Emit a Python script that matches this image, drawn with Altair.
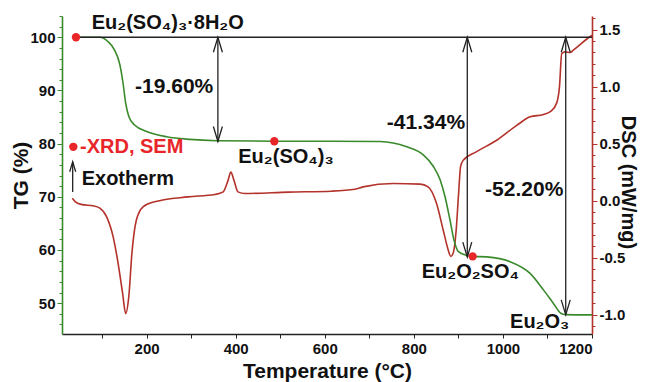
import altair as alt
import pandas as pd

# ---------------- data ----------------
tg_temp = [41, 95, 113, 128, 140, 147, 153, 160, 173, 200, 245, 297, 357, 486, 612, 724,
           784, 821, 844, 859, 870, 881, 890, 900, 919, 932, 964, 1016, 1061, 1091, 1113,
           1130, 1140, 1200]
tg_value = [100, 100, 99.2, 97.6, 94.8, 91.4, 87.6, 85.1, 83.5, 82.3, 81.3, 80.8, 80.55, 80.45,
            80.45, 80.4, 79.4, 77.9, 75.7, 73.2, 70.0, 65.7, 61.9, 59.7, 59.0, 58.8, 58.7,
            57.8, 55.6, 52.5, 50.0, 48.1, 47.85, 47.8]

dsc_temp = [33, 40, 55, 80, 95, 110, 125, 136, 146, 153, 160, 167, 177, 192, 218, 293, 353,
            372, 383, 389, 396, 405, 421, 518, 615, 668, 686, 754, 814, 832, 851, 866, 877,
            883, 889, 895, 900, 905, 911, 941, 986, 1031, 1061, 1091, 1108, 1121, 1127, 1132,
            1140, 1151, 1158, 1196, 1200]
dsc_value = [0.02, -0.01, -0.035, -0.045, -0.065, -0.14, -0.32, -0.55, -0.81, -0.99, -0.84,
             -0.46, -0.17, -0.054, -0.01, 0.033, 0.054, 0.077, 0.18, 0.25, 0.18, 0.077, 0.063,
             0.075, 0.083, 0.10, 0.121, 0.151, 0.145, 0.121, -0.025, -0.26, -0.43, -0.49, -0.45,
             -0.26, 0.033, 0.30, 0.355, 0.43, 0.53, 0.66, 0.735, 0.756, 0.785, 0.86, 1.0, 1.29,
             1.305, 1.30, 1.32, 1.44, 1.45]

# mass-loss arrows (temperature, top TG, bottom TG)
arrow_temp = [360, 920, 1141]
arrow_top = [100, 100, 100]
arrow_bottom = [80.4, 58.66, 47.8]
arrow_label = ["-19.60%", "-41.34%", "-52.20%"]
arrow_label_temp = [349.7, 915, 1135.6]
arrow_label_tg = [90.6, 83.8, 71.3]

# reference line at 100 %
ref_start = [41]
ref_end = [1200]
ref_level = [100]

# red marker dots (sampling points + legend dot)
dot_temp = [41.4, 486.7, 932, 35.4]
dot_tg = [100, 80.45, 58.8, 79.4]

# exotherm arrow
exo_temp = [34]
exo_low = [70.9]
exo_high = [76.6]

# text labels
label_text = ["Eu₂(SO₄)₃·8H₂O", "-XRD, SEM", "Exotherm", "Eu₂(SO₄)₃", "Eu₂O₂SO₄", "Eu₂O₃"]
label_temp = [76.7, 50.4, 54.2, 405.8, 817.6, 1016]
label_tg = [102.6, 79.4, 73.4, 77.55, 55.9, 46.5]
label_kind = ["black", "red", "black", "black", "black", "black"]

x_ticks = list(range(100, 1201, 100))
tg_ticks = list(range(46, 105, 2))
dsc_ticks = [round(v / 10, 1) for v in range(-11, 17)]

# ---------------- styling ----------------
GREEN = "#3a8a2c"
DSC_RED = "#b3322a"
DOT_RED = "#e8262a"
FONT = "Liberation Sans"
X_DOMAIN = [10, 1200]
TG_DOMAIN = [44.2, 104]
DSC_DOMAIN = [-1.17, 1.62]

UP_HEAD = "M-0.6,2L0,0L0.6,2"
DOWN_HEAD = "M-0.6,-2L0,0L0.6,-2"


def xenc(field="T"):
    return alt.X(
        f"{field}:Q",
        scale=alt.Scale(domain=X_DOMAIN, nice=False, zero=False),
        axis=alt.Axis(
            title="Temperature (°C)", values=x_ticks, format="d",
            labelExpr="datum.value % 200 === 0 ? datum.label : ''",
            domainColor="#222222", tickColor="#222222", tickSize=4, domainWidth=1.3,
            labelPadding=3, titlePadding=4,
        ),
    )


def tgenc(field="TG"):
    return alt.Y(
        f"{field}:Q",
        scale=alt.Scale(domain=TG_DOMAIN, nice=False, zero=False),
        axis=alt.Axis(
            title="TG (%)", values=tg_ticks,
            labelExpr="datum.value % 10 === 0 ? datum.label : ''",
            domainColor=GREEN, tickColor=GREEN, domainWidth=1.6,
            tickSize={"condition": {"test": "datum.value % 10 === 0", "value": 5}, "value": 3},
            labelPadding=2, titleX=-31, titleY=159,
        ),
    )


tg_df = pd.DataFrame({"T": tg_temp, "TG": tg_value})
dsc_df = pd.DataFrame({"T": dsc_temp, "DSC": dsc_value})
arrow_df = pd.DataFrame({"T": arrow_temp, "TG": arrow_top, "TGb": arrow_bottom})
arrow_lab_df = pd.DataFrame({"T": arrow_label_temp, "TG": arrow_label_tg, "txt": arrow_label})
ref_df = pd.DataFrame({"T": ref_start, "T1": ref_end, "TG": ref_level})
dot_df = pd.DataFrame({"T": dot_temp, "TG": dot_tg})
exo_df = pd.DataFrame({"T": exo_temp, "TG": exo_low, "TGh": exo_high})
lab_df = pd.DataFrame({"T": label_temp, "TG": label_tg, "txt": label_text, "kind": label_kind})

tg_line = alt.Chart(tg_df).mark_line(color=GREEN, strokeWidth=1.6, interpolate="monotone").encode(
    x=xenc(), y=tgenc())

ref_line = alt.Chart(ref_df).mark_rule(color="#222222", strokeWidth=1.3).encode(
    x=xenc(), x2="T1:Q", y=tgenc())

arrow_lines = alt.Chart(arrow_df).mark_rule(color="#222222", strokeWidth=1.3).encode(
    x=xenc(), y=tgenc(), y2="TGb:Q")

arrow_up = alt.Chart(arrow_df).mark_point(
    shape=UP_HEAD, filled=False, size=225, stroke="#222222", strokeWidth=1.3, opacity=1).encode(
    x=xenc(), y=tgenc())

arrow_down = alt.Chart(arrow_df).mark_point(
    shape=DOWN_HEAD, filled=False, size=225, stroke="#222222", strokeWidth=1.3, opacity=1).encode(
    x=xenc(), y=tgenc("TGb"))

exo_line = alt.Chart(exo_df).mark_rule(color="#222222", strokeWidth=1.3).encode(
    x=xenc(), y=tgenc(), y2="TGh:Q")

exo_head = alt.Chart(exo_df).mark_point(
    shape=UP_HEAD, filled=False, size=100, stroke="#222222", strokeWidth=1.3, opacity=1).encode(
    x=xenc(), y=tgenc("TGh"))

dots = alt.Chart(dot_df).mark_circle(size=70, color=DOT_RED, opacity=1).encode(
    x=xenc(), y=tgenc())

pct_text = alt.Chart(arrow_lab_df).mark_text(
    align="right", baseline="middle", font=FONT, fontWeight="bold", fontSize=21, color="#111111").encode(
    x=xenc(), y=tgenc(), text="txt:N")

labels = alt.Chart(lab_df).mark_text(
    align="left", baseline="middle", font=FONT, fontWeight="bold", fontSize=20).encode(
    x=xenc(), y=tgenc(), text="txt:N",
    color=alt.Color("kind:N", scale=alt.Scale(domain=["black", "red"], range=["#111111", DOT_RED]),
                    legend=None))

tg_group = alt.layer(tg_line, ref_line, arrow_lines, arrow_up, arrow_down, exo_line, exo_head,
                     dots, pct_text, labels)

dsc_line = alt.Chart(dsc_df).mark_line(color=DSC_RED, strokeWidth=1.6, interpolate="monotone").encode(
    x=xenc(),
    y=alt.Y(
        "DSC:Q",
        scale=alt.Scale(domain=DSC_DOMAIN, nice=False, zero=False),
        axis=alt.Axis(
            orient="right", title="DSC (mW/mg)", titleAngle=90, values=dsc_ticks,
            labelExpr="abs(datum.value*2 - round(datum.value*2)) < 0.001 ? "
                      "(datum.value < 0 ? '-' : '') + format(abs(datum.value), '.1f') : ''",
            domainColor=DSC_RED, tickColor=DSC_RED, domainWidth=1.6,
            tickSize={"condition": {"test": "abs(datum.value*2 - round(datum.value*2)) < 0.001",
                                    "value": 5}, "value": 3},
            labelPadding=2, titleX=25, titleY=166, titleFontSize=20,
        ),
    ),
)

chart = alt.layer(dsc_line, tg_group).resolve_scale(y="independent").properties(
    width=530, height=318,
    autosize=alt.AutoSizeParams(type="none"),
    padding={"left": 54, "top": 8, "right": 49, "bottom": 48},
    background="white",
).configure_axis(
    grid=False,
    labelFont=FONT, labelFontSize=15, labelFontWeight="bold", labelColor="#111111",
    titleFont=FONT, titleFontSize=21, titleFontWeight="bold", titleColor="#111111",
).configure_view(stroke=None)

chart.save("out.html", embed_options={"renderer": "svg", "actions": False})
